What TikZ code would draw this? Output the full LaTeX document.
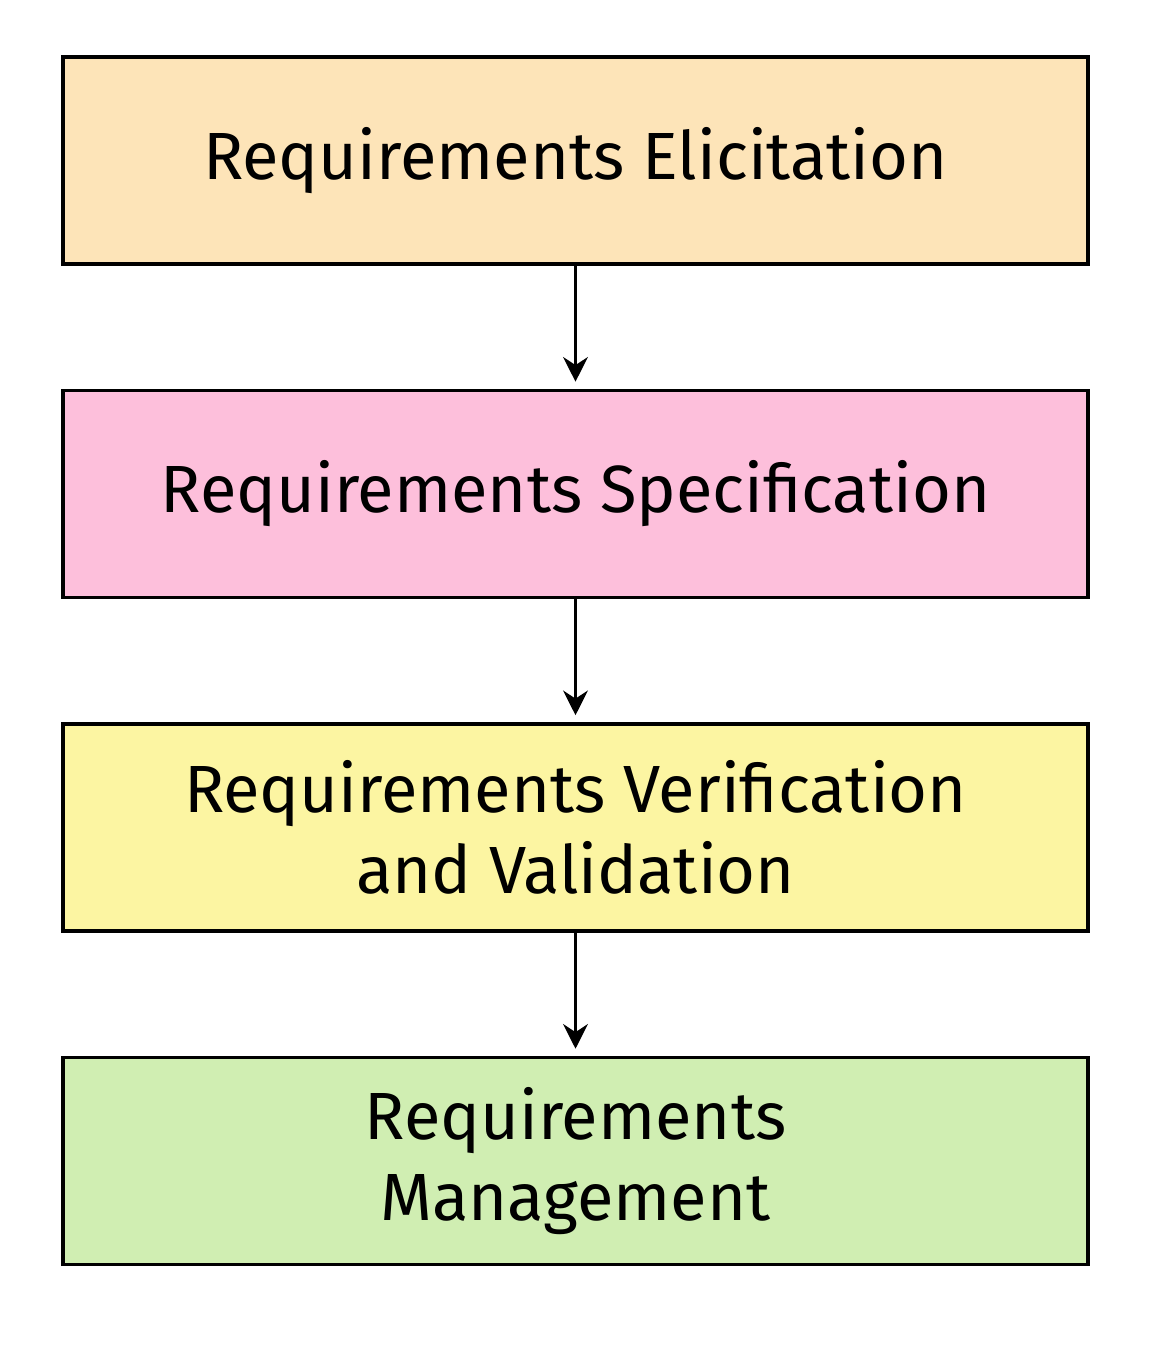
\documentclass[tikz,border=0pt]{standalone}
\usepackage{fontspec}
\setmainfont{Fira Sans}
\usetikzlibrary{positioning,arrows.meta}
\definecolor{elic}{HTML}{FDE4B8}
\definecolor{spec}{HTML}{FDBFDB}
\definecolor{veri}{HTML}{FCF5A2}
\definecolor{mgmt}{HTML}{D0EEB2}
\tikzset{
  phase/.style={draw=black, line width=2pt, minimum width=20.5cm, minimum height=4.14cm,
    align=center, font=\fontsize{38}{46}\selectfont},
  flow/.style={-{Stealth[length=14pt,width=14pt]}, line width=2pt, shorten >=4pt}
}
\begin{document}
\begin{tikzpicture}
\useasboundingbox (0,0) rectangle (22.98,27.38);
\node[phase, fill=elic] (elicit) at (11.51,24.17) {Requirements Elicitation};
\node[phase, fill=spec, below=2.46cm of elicit] (specify) {Requirements Specification};
\node[phase, fill=veri, below=2.46cm of specify] (verify) {Requirements Verification\\and Validation};
\node[phase, fill=mgmt, below=2.46cm of verify] (manage) {Requirements\\Management};
\draw[flow] (elicit) -- (specify);
\draw[flow] (specify) -- (verify);
\draw[flow] (verify) -- (manage);
\end{tikzpicture}
\end{document}
